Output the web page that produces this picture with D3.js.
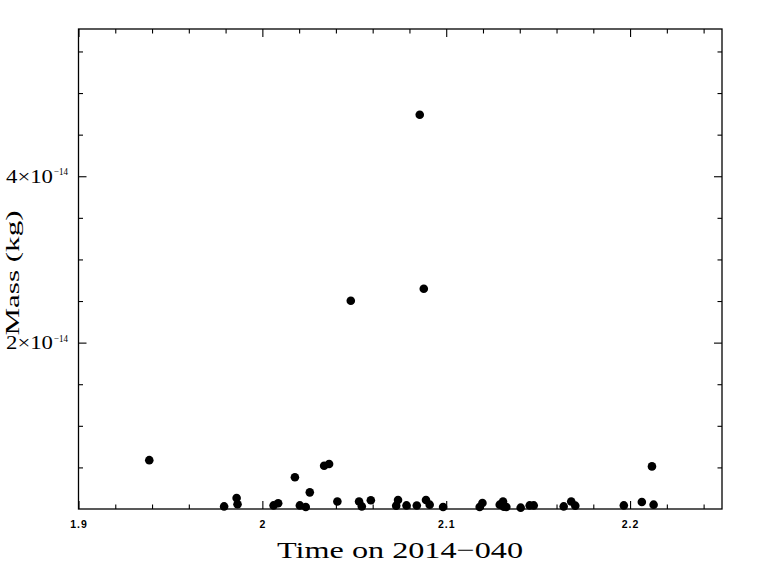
<!DOCTYPE html>
<html>
<head>
<meta charset="utf-8">
<script src="https://cdn.jsdelivr.net/npm/d3@7"></script>
<style>
  body { margin: 0; background: #fff; }
  .axis path { stroke: none; }
  .axis line { stroke: #000; stroke-width: 1.1; }
  .xlab text { font-family: "Liberation Sans", sans-serif; font-weight: bold; font-size: 10.5px; letter-spacing: 1px; fill: #000; }
</style>
</head>
<body>
<div id="chart"></div>
<script>
// time (hours on 2014-040) and mass in units of 1e-14 kg
var times = [1.9385, 1.9792, 1.9860, 1.9865, 2.0061, 2.0086, 2.0177, 2.0204, 2.0236, 2.0258,
             2.0336, 2.0363, 2.0408, 2.0481, 2.0526, 2.0541, 2.0590, 2.0728, 2.0738, 2.0784,
             2.0840, 2.0856, 2.0878, 2.0890, 2.0910, 2.0983, 2.1182, 2.1197, 2.1291, 2.1309,
             2.1327, 2.1313, 2.1405, 2.1454, 2.1476, 2.1639, 2.1680, 2.1702, 2.1966, 2.2064,
             2.2119, 2.2128];
var masses = [0.587, 0.031, 0.132, 0.058, 0.043, 0.070, 0.382, 0.043, 0.024, 0.200,
              0.520, 0.541, 0.091, 2.504, 0.091, 0.031, 0.106, 0.040, 0.108, 0.043,
              0.042, 4.739, 2.648, 0.108, 0.052, 0.024, 0.024, 0.072, 0.052, 0.091,
              0.024, 0.028, 0.016, 0.043, 0.043, 0.031, 0.091, 0.040, 0.043, 0.084,
              0.512, 0.052];
var xTicks = [1.9, 2.0, 2.1, 2.2];
var xTickLabels = ["1.9", "2", "2.1", "2.2"];
var yTicks = [2, 4];
var yTickLabels = ["2\u00d710", "4\u00d710"];
var yExponent = "\u221214";

var width = 768, height = 574;
var margin = {top: 29, right: 46, bottom: 65, left: 78.5};

var svg = d3.select("#chart").append("svg")
    .attr("width", width)
    .attr("height", height);

var x = d3.scaleLinear().domain([1.9, 2.25]).range([margin.left, width - margin.right]);
var y = d3.scaleLinear().domain([0, 5.77]).range([height - margin.bottom, margin.top]);

var minorX = d3.range(0, 18).map(function(i) { return +(1.9 + i * 0.02).toFixed(2); })
    .filter(function(d) { return xTicks.indexOf(d) < 0; });
var minorY = d3.range(0, 12).map(function(i) { return i * 0.5; })
    .filter(function(d) { return d > 0 && yTicks.indexOf(d) < 0; });

var x0 = x.range()[0], x1 = x.range()[1], y0 = y.range()[0], y1 = y.range()[1];

function addAxis(axis, tr, cls) {
  return svg.append("g").attr("class", "axis " + (cls || ""))
    .attr("transform", tr).call(axis);
}

// bottom
addAxis(d3.axisBottom(x).tickValues(xTicks).tickSize(-8).tickPadding(12)
  .tickFormat(function(d, i) { return xTickLabels[i]; }), "translate(0," + y0 + ")", "xlab");
addAxis(d3.axisBottom(x).tickValues(minorX).tickSize(-4.5).tickFormat(""), "translate(0," + y0 + ")");
// top
addAxis(d3.axisTop(x).tickValues(xTicks).tickSize(-8).tickFormat(""), "translate(0," + y1 + ")");
addAxis(d3.axisTop(x).tickValues(minorX).tickSize(-4.5).tickFormat(""), "translate(0," + y1 + ")");
// left
addAxis(d3.axisLeft(y).tickValues(yTicks).tickSize(-8).tickFormat(""), "translate(" + x0 + ",0)");
addAxis(d3.axisLeft(y).tickValues(minorY).tickSize(-4.5).tickFormat(""), "translate(" + x0 + ",0)");
// right
addAxis(d3.axisRight(y).tickValues(yTicks).tickSize(-8).tickFormat(""), "translate(" + x1 + ",0)");
addAxis(d3.axisRight(y).tickValues(minorY).tickSize(-4.5).tickFormat(""), "translate(" + x1 + ",0)");

// frame
svg.append("rect")
    .attr("x", x0).attr("y", y1)
    .attr("width", x1 - x0).attr("height", y0 - y1)
    .attr("fill", "none").attr("stroke", "#000").attr("stroke-width", 1.3);

// y tick labels with exponent
var yl = svg.append("g").selectAll("g").data(yTicks).enter().append("g");
yl.append("text")
    .attr("x", 6).attr("y", function(d) { return y(d) + 6.5; })
    .attr("textLength", 47).attr("lengthAdjust", "spacingAndGlyphs")
    .style("font-family", "Liberation Serif, serif").style("font-size", "18px")
    .text(function(d, i) { return yTickLabels[i]; });
yl.append("text")
    .attr("x", 54).attr("y", function(d) { return y(d) - 1; })
    .attr("textLength", 14).attr("lengthAdjust", "spacingAndGlyphs")
    .style("font-family", "Liberation Serif, serif").style("font-size", "10px")
    .text(yExponent);

// points
svg.append("g").selectAll("circle")
    .data(times.map(function(t, i) { return {t: t, m: masses[i]}; }))
  .enter().append("circle")
    .attr("cx", function(d) { return x(d.t); })
    .attr("cy", function(d) { return y(d.m); })
    .attr("r", 4.3)
    .attr("fill", "#000");

// axis titles
svg.append("text")
    .attr("x", 400).attr("y", 558)
    .attr("text-anchor", "middle")
    .attr("textLength", 246).attr("lengthAdjust", "spacingAndGlyphs")
    .style("font-family", "Liberation Serif, serif").style("font-size", "24px")
    .text("Time on 2014\u2212040");

svg.append("text")
    .attr("transform", "translate(19,273) rotate(-90)")
    .attr("text-anchor", "middle")
    .attr("textLength", 125).attr("lengthAdjust", "spacingAndGlyphs")
    .style("font-family", "Liberation Serif, serif").style("font-size", "19px")
    .text("Mass (kg)");
</script>
</body>
</html>
